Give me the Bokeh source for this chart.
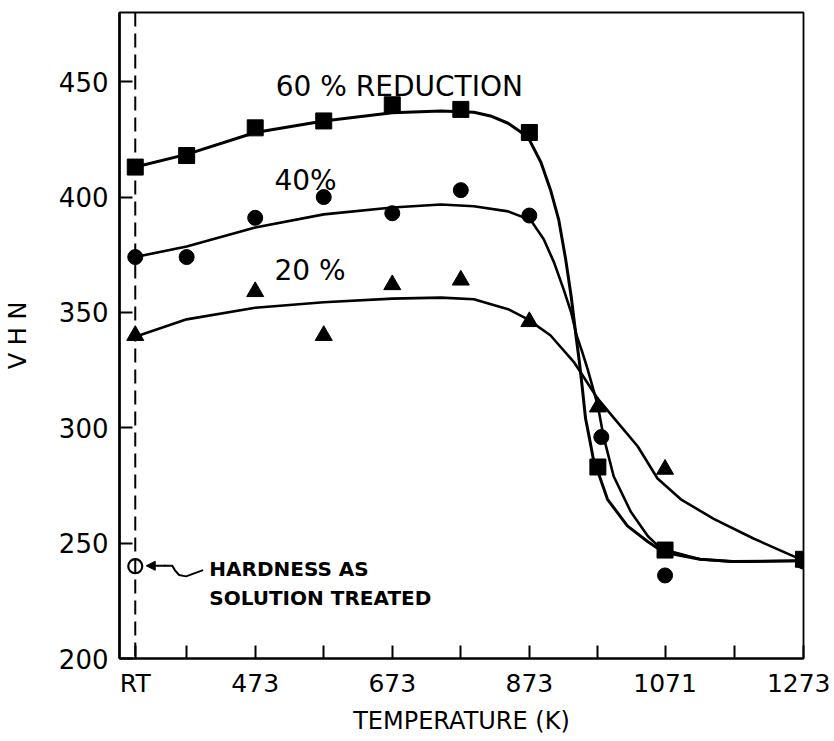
from bokeh.plotting import figure
from bokeh.models import Span, Arrow, NormalHead, FixedTicker
from bokeh.core.properties import value
from bokeh.embed import file_html
from bokeh.resources import INLINE

# ---------------- data ----------------
tick_temps = [298, 373, 473, 573, 673, 773, 873, 973, 1071, 1173, 1273]
tick_text = ["RT", "", "473", "", "673", "", "873", "", "1071", "", "1273"]
vhn_ticks = [200, 250, 300, 350, 400, 450]

# measured points
t60 = [298, 373, 473, 573, 673, 773, 873, 973, 1071, 1273]
v60 = [413, 418, 430, 433, 440, 438, 428, 283, 247, 243]
t40 = [298, 373, 473, 573, 673, 773, 873, 978, 1071, 1273]
v40 = [374, 374, 391, 400, 393, 403, 392, 296, 236, 242]
t20 = [298, 473, 573, 673, 773, 873, 973, 1071, 1273]
v20 = [340, 359, 340, 362, 364, 346, 309, 282, 242]
t_st = [298]
v_st = [240]

# fitted curves (traced)
c60_t = [298, 373, 473, 573, 673, 744, 792, 818, 842, 871, 890, 904, 916, 926, 934,
         941, 946, 950, 955, 960, 966, 973, 987, 1016, 1046, 1069, 1122, 1170, 1273]
c60_v = [413, 418.5, 428, 433, 436.5, 437.3, 436.8, 435, 432, 426, 415, 403, 390, 373, 357,
         340, 328.5, 318, 304, 296.5, 287, 281, 269, 257.5, 250.6, 246, 243, 242, 242.4]
c40_t = [298, 373, 473, 573, 673, 744, 792, 842, 875, 894, 909, 923, 934, 942,
         950, 958, 966, 973, 981, 996, 1021, 1046, 1065, 1122, 1170, 1273]
c40_v = [374, 378.6, 386.8, 392.5, 395.5, 396.8, 396, 393.8, 390, 381.7, 371.7, 360, 350, 340,
         333, 325.4, 317, 309.5, 296.5, 279, 263.6, 253, 247.6, 243, 242, 242.4]
c20_t = [298, 373, 473, 573, 673, 744, 792, 842, 871, 904, 938, 973, 1006, 1031, 1060,
         1094, 1142, 1200, 1273]
c20_v = [339.5, 347, 352, 354.4, 356, 356.4, 355.7, 351.4, 347, 340, 328.5, 312.5, 300.8, 292, 278,
         269, 260.5, 252, 242.4]

FONT = "DejaVu Sans"

p = figure(width=830, height=737, x_range=(275, 1273), y_range=(200, 480),
           output_backend="svg", toolbar_location=None,
           min_border_left=118, min_border_right=27, min_border_top=12, min_border_bottom=77)

p.xgrid.visible = False
p.ygrid.visible = False
p.background_fill_color = "white"
p.border_fill_color = "white"
p.outline_line_color = "black"
p.outline_line_width = 1.8

# axes
xa = p.xaxis[0]
xa.ticker = FixedTicker(ticks=tick_temps)
xa.major_label_overrides = {t: s for t, s in zip(tick_temps, tick_text)}
xa.major_tick_in = 13
xa.major_tick_out = 0
xa.minor_tick_line_color = None
xa.major_tick_line_width = 2
xa.axis_line_width = 2.2
xa.major_label_text_font = FONT
xa.major_label_text_font_size = "25px"
xa.major_label_text_color = "black"
xa.major_label_standoff = 10
xa.axis_label = "TEMPERATURE (K)"
xa.axis_label_text_font = FONT
xa.axis_label_text_font_size = "24px"
xa.axis_label_text_font_style = "normal"
xa.axis_label_text_color = "black"
xa.axis_label_standoff = 6

ya = p.yaxis[0]
ya.ticker = FixedTicker(ticks=vhn_ticks)
ya.major_tick_in = 13
ya.major_tick_out = 0
ya.minor_tick_line_color = None
ya.major_tick_line_width = 2
ya.axis_line_width = 2.6
ya.major_label_text_font = FONT
ya.major_label_text_font_size = "26px"
ya.major_label_text_color = "black"
ya.major_label_standoff = 11
ya.axis_label = "V H N"
ya.axis_label_text_font = FONT
ya.axis_label_text_font_size = "24px"
ya.axis_label_text_font_style = "normal"
ya.axis_label_text_color = "black"
ya.axis_label_standoff = 24

# dashed RT line
p.add_layout(Span(location=t_st[0], dimension="height", line_color="black",
                  line_width=2, line_dash="14 7"))

# curves
p.line(c60_t, c60_v, line_color="black", line_width=3)
p.line(c40_t, c40_v, line_color="black", line_width=2.6)
p.line(c20_t, c20_v, line_color="black", line_width=2.6)

# markers
p.scatter(t20, v20, marker="triangle", size=17, color="black")
p.scatter(t40, v40, marker="circle", size=15, color="black")
p.scatter(t60, v60, marker="square", size=16, color="black")
p.scatter(t_st, v_st, marker="circle", size=14, fill_color="white",
          line_color="black", line_width=2.2)

# annotation squiggle + arrow
p.line([397, 372, 362, 356, 352, 340], [238.3, 235.6, 236.2, 238.2, 240.2, 240.2],
       line_color="black", line_width=2)
p.add_layout(Arrow(end=NormalHead(size=9, fill_color="black", line_color="black"),
                   x_start=342, y_start=240.2, x_end=314, y_end=240.2,
                   line_color="black", line_width=2))

# text labels
def lab(x, y, s, size, style="normal"):
    p.text(x=[x], y=[y], text=[s], text_font=value(FONT), text_font_size=size,
           text_baseline="middle", text_align="left", text_color="black",
           text_font_style=style)

lab(503, 448, "60 % REDUCTION", "28px")
lab(501, 407, "40%", "28px")
lab(501, 368, "20 %", "28px")
lab(406, 238.7, "HARDNESS AS", "20px", "bold")
lab(406, 226.2, "SOLUTION TREATED", "20px", "bold")

open("out.html", "w").write(file_html(p, INLINE))
